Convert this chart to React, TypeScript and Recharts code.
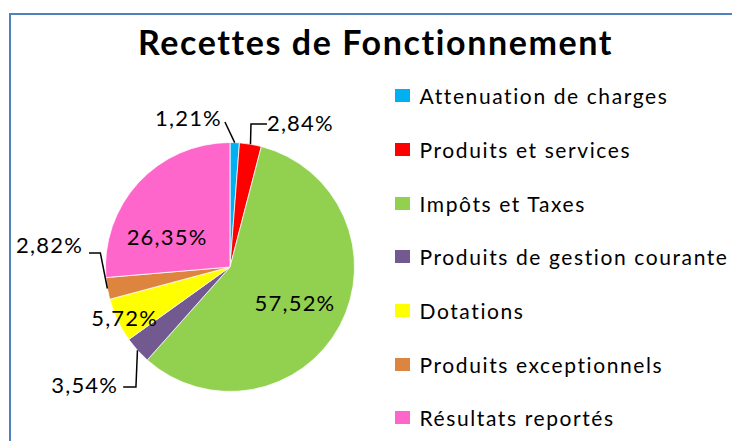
import React from 'react';
import { PieChart, Pie, Cell, Legend } from 'recharts';

const categories = [
  'Attenuation de charges',
  'Produits et services',
  'Impôts et Taxes',
  'Produits de gestion courante',
  'Dotations',
  'Produits exceptionnels',
  'Résultats reportés',
];
const shares = [1.21, 2.84, 57.52, 3.54, 5.72, 2.82, 26.35];
const colors = ['#00B0F0', '#FF0000', '#92D050', '#725A90', '#FFFF00', '#DD843F', '#FF66CC'];

const data = categories.map((name, i) => ({ name, value: shares[i] }));

const FONT = 'Lato, "Noto Sans", sans-serif';
const RADIAN = Math.PI / 180;

// where each label sits: polar angle (deg) + fraction of the radius.
// outside labels get a leader line that bends at (arc x + bendDx, anchor y)
const placement: any[] = [
  { angle: 92, dist: 1.165, side: 'left', gap: 3, dy: -5, straight: true },
  { angle: 75.5, dist: 1.186, side: 'right', gap: 0, dy: -2, bendDx: 0.5 },
  { angle: -28.3, dist: 0.593 },
  { angle: -131.7, dist: 1.29, side: 'left', gap: 5, dy: -2, bendDx: -1.5 },
  { angle: -154.2, dist: 0.94 },
  { angle: 174.3, dist: 1.138, side: 'left', gap: 6, dy: -8, bendDx: -7 },
  { angle: 154.5, dist: 0.56 },
];

const fmt = (v: number) => v.toFixed(2).replace('.', ',') + '%';

const renderLabel = (props: any) => {
  const { cx, cy, midAngle, outerRadius, index, value } = props;
  const p = placement[index];
  const px = cx + outerRadius * p.dist * Math.cos(p.angle * RADIAN);
  const py = cy - outerRadius * p.dist * Math.sin(p.angle * RADIAN);
  const textStyle = { fontFamily: FONT, fontSize: 22, fill: '#000', letterSpacing: 1.2 };
  if (!p.side) {
    return (
      <text x={px} y={py} textAnchor="middle" dominantBaseline="central" style={textStyle}>
        {fmt(value)}
      </text>
    );
  }
  const ax = cx + outerRadius * Math.cos(midAngle * RADIAN);
  const ay = cy - outerRadius * Math.sin(midAngle * RADIAN);
  const pts = p.straight
    ? `${ax},${ay} ${px},${py}`
    : `${ax},${ay} ${ax + p.bendDx},${py} ${px},${py}`;
  const tx = p.side === 'left' ? px - p.gap : px + p.gap;
  return (
    <g>
      <polyline points={pts} fill="none" stroke="#000" strokeWidth={1.5} />
      <text
        x={tx}
        y={py + p.dy}
        textAnchor={p.side === 'left' ? 'end' : 'start'}
        dominantBaseline="central"
        style={textStyle}
      >
        {fmt(value)}
      </text>
    </g>
  );
};

const LegendList = () => (
  <div style={{ fontFamily: FONT, fontSize: 21, color: '#000', letterSpacing: 1.6 }}>
    {categories.map((c, i) => (
      <div key={c} style={{ height: 53.7, display: 'flex', alignItems: 'center' }}>
        <span style={{ width: 15, height: 13, background: colors[i], marginRight: 10, flex: 'none' }} />
        <span style={{ lineHeight: 1, whiteSpace: 'nowrap' }}>{c}</span>
      </div>
    ))}
  </div>
);

export default function App() {
  return (
    <div style={{ position: 'absolute', left: 0, top: 0, width: 732, height: 441, background: '#fff', overflow: 'hidden' }}>
      <div
        style={{
          position: 'absolute',
          left: 9,
          top: 13,
          width: 760,
          height: 460,
          border: '2px solid #4F81BD',
        }}
      />
      <svg width={732} height={441} style={{ position: 'absolute', left: 0, top: 0 }}>
        <text
          x={375.5}
          y={55}
          textAnchor="middle"
          style={{ fontFamily: FONT, fontSize: 34, fontWeight: 700, fill: '#000', letterSpacing: 1.6 }}
        >
          Recettes de Fonctionnement
        </text>
      </svg>
      <div style={{ position: 'absolute', left: 0, top: 0 }}>
        <PieChart width={732} height={441} margin={{ top: 0, right: 0, bottom: 0, left: 0 }}>
          <Pie
            data={data}
            dataKey="value"
            nameKey="name"
            cx={230}
            cy={267}
            outerRadius={124.5}
            startAngle={90}
            endAngle={-270}
            stroke="#fff"
            strokeWidth={0.75}
            label={renderLabel}
            labelLine={false}
            isAnimationActive={false}
          >
            {data.map((d, i) => (
              <Cell key={d.name} fill={colors[i]} />
            ))}
          </Pie>
          <Legend
            layout="vertical"
            content={() => <LegendList />}
            wrapperStyle={{ left: 394.5, top: 68.85, width: 338 }}
          />
        </PieChart>
      </div>
    </div>
  );
}
